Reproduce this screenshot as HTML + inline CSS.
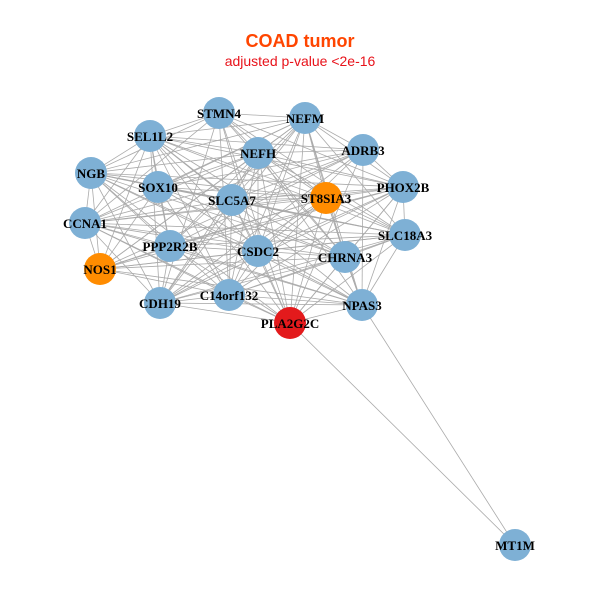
<!DOCTYPE html>
<html><head><meta charset="utf-8"><style>
html,body{margin:0;padding:0;background:#fff;width:600px;height:600px;overflow:hidden}
</style></head><body>
<svg id="s" width="600" height="600" xmlns="http://www.w3.org/2000/svg">
<rect width="600" height="600" fill="#fff"/>
<text x="300" y="47" text-anchor="middle" font-family="Liberation Sans, sans-serif" font-weight="bold" font-size="18" fill="#FF4500">COAD tumor</text>
<text x="300" y="66" text-anchor="middle" font-family="Liberation Sans, sans-serif" font-size="14" fill="#E8121A">adjusted p-value &lt;2e-16</text>
<g id="edges" stroke="#aaa" stroke-width="0.8"></g>
<g id="nodes"></g>
</svg>
<script>
var N=[["STMN4",219,113,"b"],["NEFM",305,118,"b"],["SEL1L2",150,136,"b"],["ADRB3",363,150,"b"],["NEFH",258,153,"b"],["NGB",91,173,"b"],["SOX10",158,187,"b"],["PHOX2B",403,187,"b"],["ST8SIA3",326,198,"o"],["SLC5A7",232,200,"b"],["CCNA1",85,223,"b"],["SLC18A3",405,235,"b"],["PPP2R2B",170,246,"b"],["CSDC2",258,251,"b"],["CHRNA3",345,257,"b"],["NOS1",100,269,"o"],["CDH19",160,303,"b"],["C14orf132",229,295,"b"],["NPAS3",362,305,"b"],["PLA2G2C",290,323,"r"],["MT1M",515,545,"b"]];
var ns="http://www.w3.org/2000/svg",E=document.getElementById("edges"),G=document.getElementById("nodes");
function L(a,b){var l=document.createElementNS(ns,"line");l.setAttribute("x1",a[1]);l.setAttribute("y1",a[2]);l.setAttribute("x2",b[1]);l.setAttribute("y2",b[2]);E.appendChild(l);}
for(var i=0;i<20;i++)for(var j=i+1;j<20;j++){if((i*7+j*3)%9==0)continue;L(N[i],N[j]);}
L(N[19],N[20]);L(N[18],N[20]);
var C={b:"#7EB0D5",o:"#FF8C00",r:"#E31A1C"};
N.forEach(function(n){var c=document.createElementNS(ns,"circle");c.setAttribute("cx",n[1]);c.setAttribute("cy",n[2]);c.setAttribute("r",16);c.setAttribute("fill",C[n[3]]);G.appendChild(c);});
N.forEach(function(n){var t=document.createElementNS(ns,"text");t.setAttribute("x",n[1]);t.setAttribute("y",n[2]+5);t.setAttribute("text-anchor","middle");t.setAttribute("font-family","Liberation Serif, serif");t.setAttribute("font-weight","bold");t.setAttribute("font-size","13");t.textContent=n[0];G.appendChild(t);});
</script>
</body></html>
